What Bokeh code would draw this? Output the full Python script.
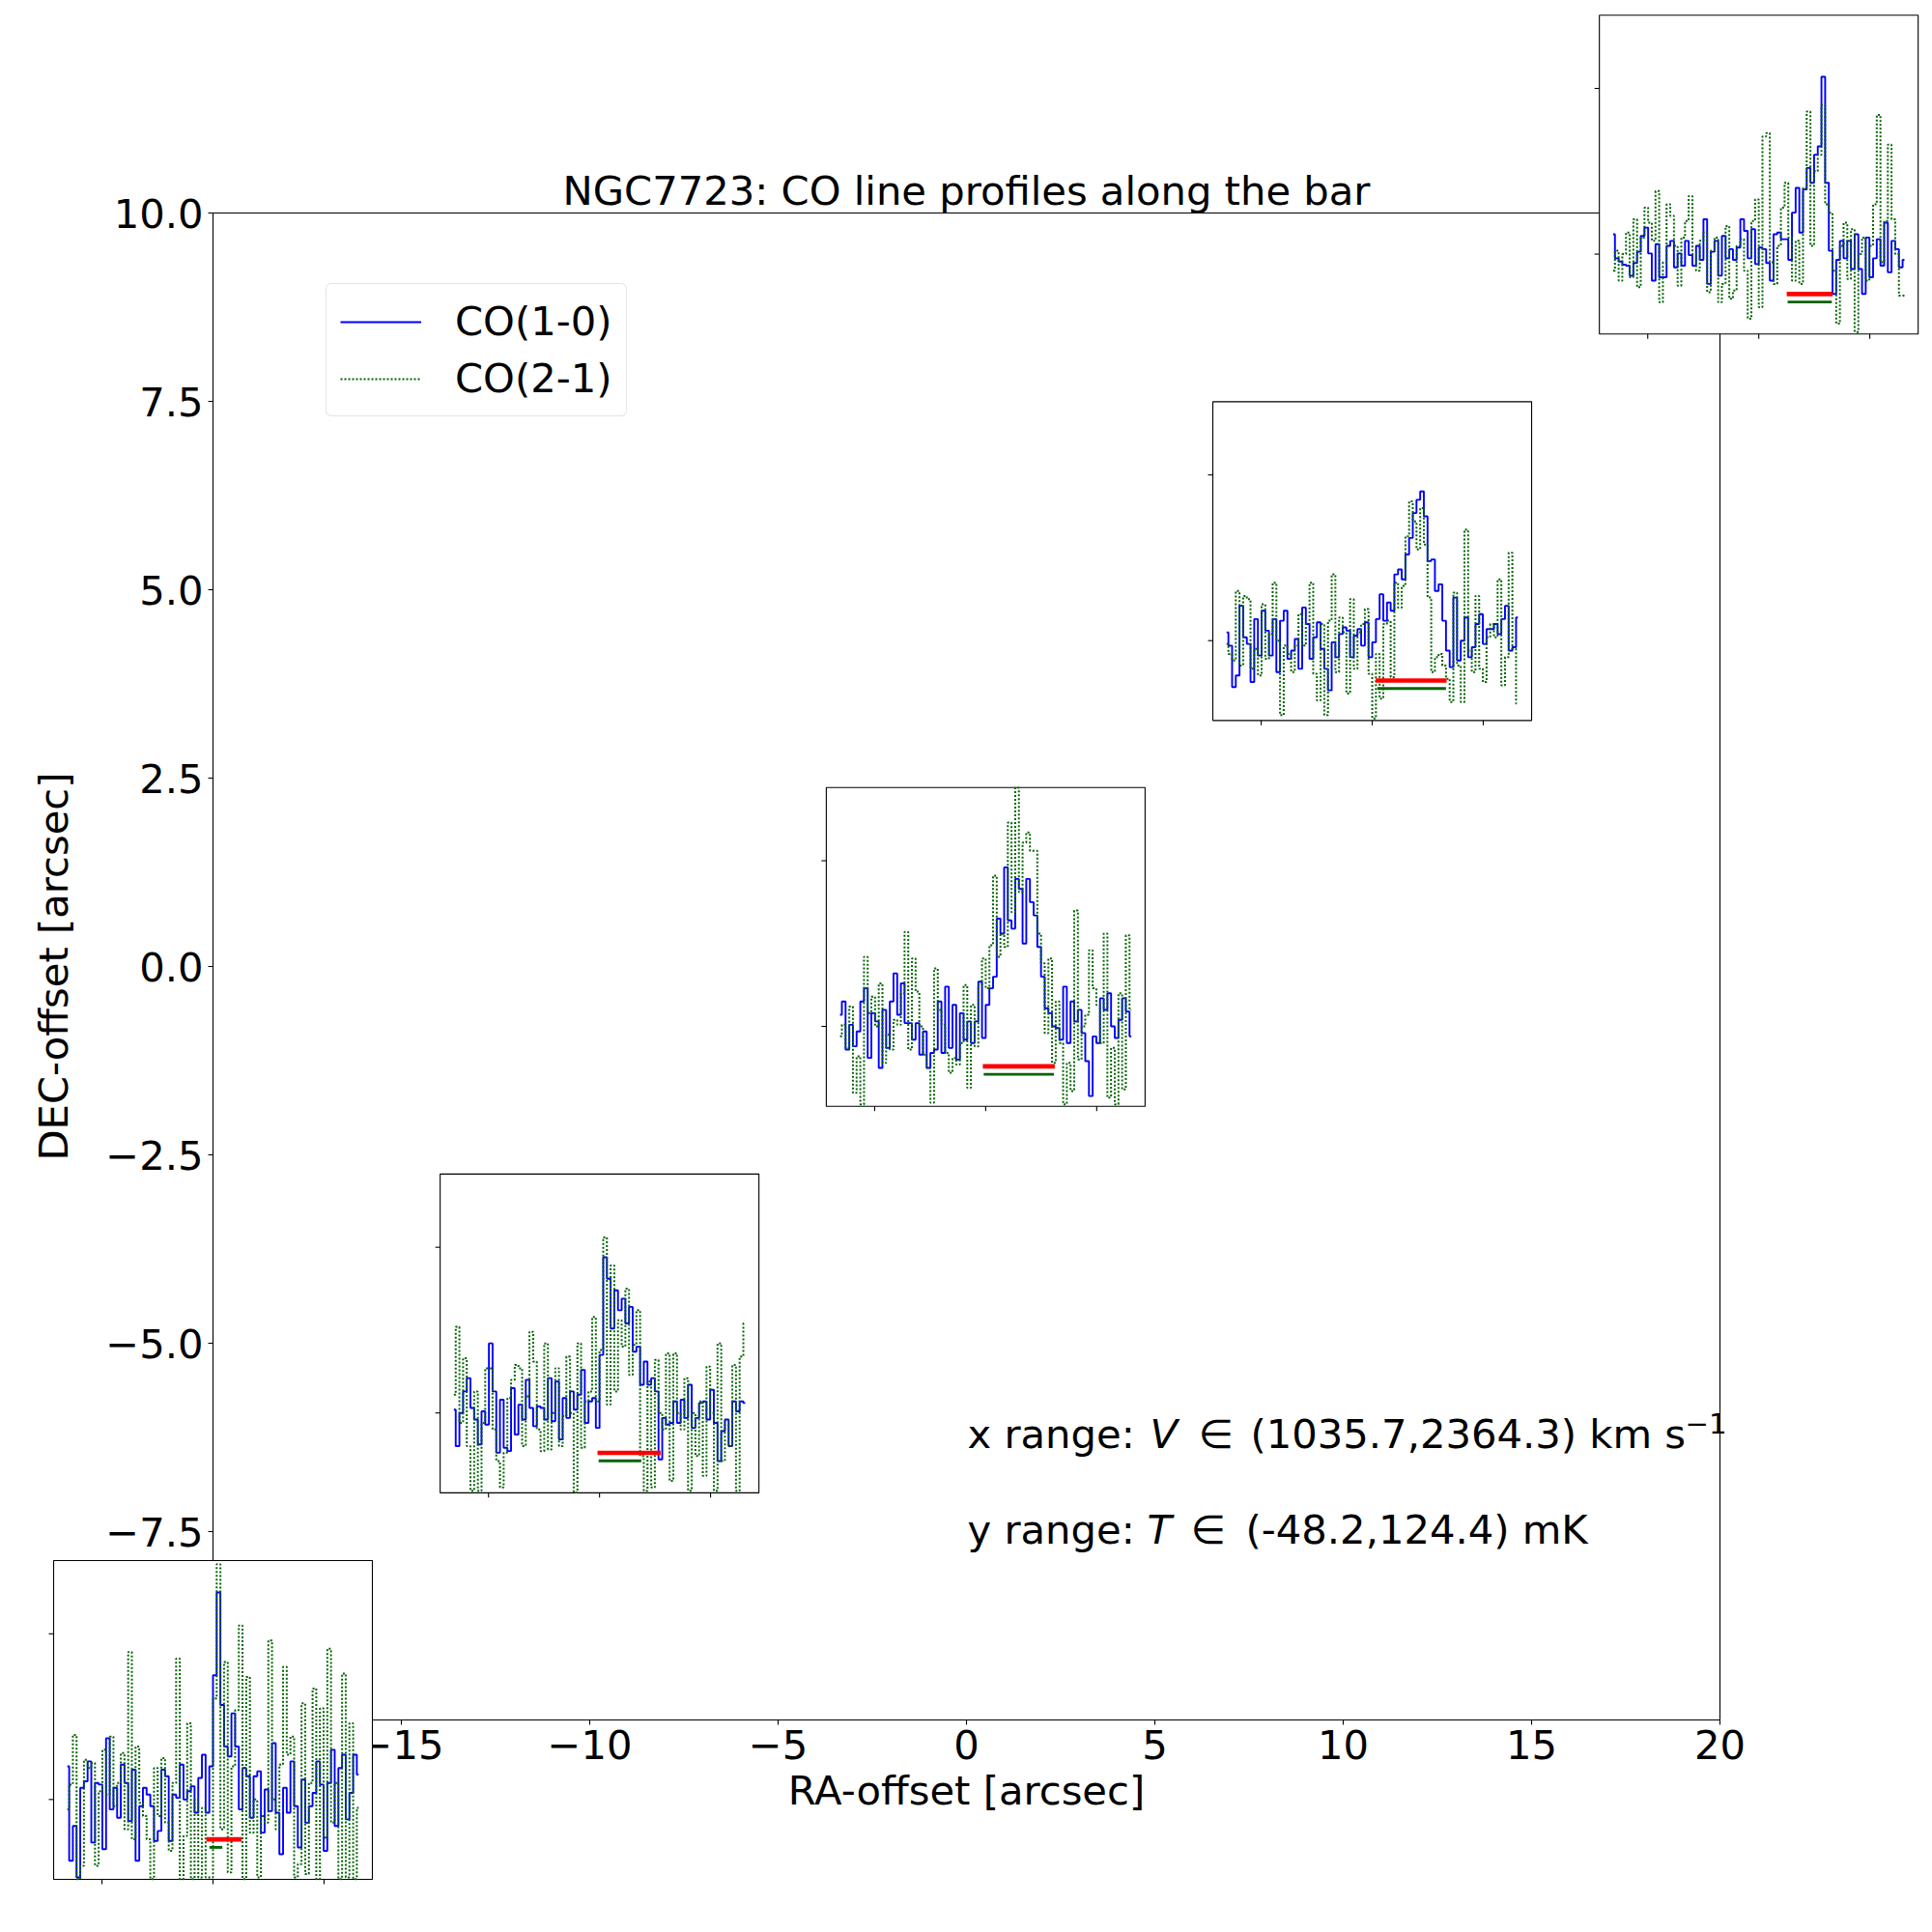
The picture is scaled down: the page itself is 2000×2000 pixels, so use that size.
import math
from bokeh.plotting import figure
from bokeh.models import (Range1d, LinearAxis, FixedTicker, CustomJSTickFormatter,
                          Label, Legend, LegendItem)
from bokeh.embed import file_html
from bokeh.resources import INLINE

# ---------------- data ----------------
TITLE = "NGC7723: CO line profiles along the bar"
XLABEL = "RA-offset [arcsec]"
YLABEL = "DEC-offset [arcsec]"
XTICKS = [-20, -15, -10, -5, 0, 5, 10, 15, 20]
YTICKS = [-10, -7.5, -5, -2.5, 0, 2.5, 5, 7.5, 10]

# inset centres (RA, DEC offsets in arcsec)
RA_C = [-20.0, -9.74, 0.51, 10.77, 21.03]
DEC_C = [-10.0, -4.87, 0.26, 5.38, 10.51]

V_RANGE = (1035.7, 2364.3)      # km/s, spectral range
T_RANGE = (-48.2, 124.4)        # mK, quoted range
V_LIM = (982.2, 2417.8)         # inset x limits
T_LIM = (-48.2, 144.2)          # inset y limits
V_TICKS = [1200, 1700, 2200]
T_TICKS = [0, 100]
N_CHAN = 80

CO10_1 = [20, -37, -16, -47, 7, 11, 23, -26, 10, 9,
          -30, 37, -6, 7, -11, 21, 10, -13, 18, -37,
          -4, 7, 3, -4, -25, -19, 18, 14, -25, 3,
          1, 21, 0, 5, 8, -8, 13, 27, -8, 20,
          75, 125, 57, 32, 26, 52, 32, -6, 19, 14,
          -11, 14, 17, -20, 6, -7, 34, -8, -33, 7,
          -8, 23, -4, -29, 12, -14, -4, 4, 23, 9,
          -31, 10, 30, -16, 19, 27, -12, 4, 27, 15]
CO21_1 = [-6, 9, 39, -48, -40, 24, 19, 22, -40, 5,
          30, 3, 38, -4, 10, 28, -18, 89, -24, 32,
          -2, -10, -24, -48, 19, -10, 25, -14, -31, 10,
          85, -48, -22, 46, -48, 0, -47, -5, -47, -47,
          61, 142, -18, 83, -44, 20, 54, 105, -48, 74,
          -20, 0, -47, -10, -14, 96, 0, -18, 21, 80,
          27, 38, -47, -39, 58, -45, 10, 67, -48, 55,
          -23, 91, -14, 10, -48, 76, -47, 46, -48, -5]

CO10_2 = [2, -20, 0, 13, 21, 3, -4, -19, 1, -7,
          42, 13, -24, 8, -21, -23, 15, -13, 5, -4,
          20, 3, -8, 4, 3, -4, 21, -5, 19, -16,
          9, -3, 13, 2, 11, 26, -6, 7, 9, -9,
          35, 94, 81, 51, 74, 62, 69, 54, 64, 37,
          40, 17, 31, 17, 21, 13, -28, -3, -7, -6,
          7, -6, 8, -3, 17, -9, -3, 6, 7, -4,
          14, -6, -29, -11, -4, -20, 7, 1, 7, 6]
CO21_2 = [11, 52, -6, 33, -20, -47, 13, -47, -6, 27,
          27, -10, -29, -45, -24, 9, 20, 29, 27, -20,
          10, 49, 31, -10, -23, 42, -22, 0, 27, -20,
          -2, 34, 0, -48, 42, -21, 7, 13, 58, 7,
          38, 106, 5, 89, 13, 56, 40, 75, 23, 41,
          62, -26, -47, 19, -45, 32, 0, -10, 36, -41,
          36, 0, -10, 21, -47, 0, -26, 7, -38, 28,
          0, -47, 42, -29, -5, -20, 29, -47, 34, 54]

CO10_3 = [7, 15, -14, 1, -12, -3, 15, 23, -19, 8,
          3, -25, 10, -13, 15, 32, 7, 26, 2, 2,
          -8, 2, -17, -3, -25, -16, -14, 15, -16, 24,
          -13, 13, -20, 8, -8, 3, -10, 3, 27, -7,
          13, 23, 30, 65, 56, 96, 64, 59, 89, 83,
          50, 89, 75, 67, 48, 30, 11, 8, 0, -1,
          -8, 24, -10, 15, 3, 10, -4, -21, -42, -6,
          -10, 17, 10, 20, 0, -7, 4, 17, 9, -6]
CO21_3 = [-6, 1, -13, 12, -40, -18, -47, 42, 8, 18,
          0, 26, -22, -5, -14, 4, 1, 20, 57, -14,
          41, 21, 0, -17, -25, -46, 35, 10, 1, -16,
          -28, -19, -23, -10, 25, -37, 13, -12, 25, 41,
          23, 49, 91, 42, 56, 48, 123, 69, 144, 81,
          111, 117, 106, 106, 56, 38, -4, 41, -22, 15,
          -10, -47, -22, -39, 70, -20, 0, 7, 46, 23,
          13, -10, 56, -43, -13, -47, 20, -38, 55, 10]

CO10_4 = [5, -3, -28, -21, 21, 2, -2, -25, 13, -9,
          18, 6, -9, 13, -19, 12, 18, -11, -6, 1,
          -17, 20, 10, -11, 2, 11, -5, -17, -30, -1,
          -10, 4, 8, 6, -10, 3, 7, -3, 11, -10,
          -1, 13, 28, 12, 23, 18, 40, 43, 37, 52,
          62, 77, 85, 90, 75, 48, 49, 30, 34, 12,
          -6, -16, 26, -12, 0, 14, -10, -4, 10, 16,
          -2, 7, 7, 10, 4, 13, 21, -6, -4, 14]
CO21_4 = [-2, -8, -12, 30, -15, 27, 25, -17, -5, -21,
          22, -11, 4, 35, 0, -45, -3, -8, -19, -3,
          16, -3, 10, 35, -20, -36, 10, -45, 12, 40,
          -19, 14, 5, -32, 25, -17, 5, 10, 19, -20,
          -47, -8, -35, 10, 12, -22, 35, 20, 33, 63,
          84, 72, 55, 80, 58, 26, -19, -10, -8, -15,
          -23, -37, 29, -15, -37, 67, -6, -19, 27, -17,
          -25, 2, 10, 2, 37, -27, -10, 53, -5, -38]

CO10_5 = [12, -2.5, -4.5, -6.4, -7, -13, -5.4, 1.4, 11, 16,
          0.4, -16, 6, -14, -14, 5, 8, -8, 0.4, -7,
          8, -0.6, -7, 5, -3.5, 21, -18, 1.4, 8, -13,
          11, -2.5, 3, -3.5, 4, 21, 14, -2.5, 15, -6,
          4, 3, -5.4, -16, 12, 13, 9, 9, -3.5, 25,
          40, 13, 39, 52, 43, 60, 65, 107, 43, 2,
          -24, -3.5, 8, -2.5, 8, -9, 12, -9, -24, 10,
          -14, -2.5, 9, -7, 19, -11, 8, 3, -8, -3.5]
CO21_5 = [-10, 2, -16, 0, 13, -14, 21, -20, 10, 28,
          19, 8, 38, -29, -5, 30, 23, 5, -19, 10,
          20, 35, 0, -10, 8, 13, -23, 2, 10, -29,
          -18, 17, -27, -22, 5, 9, -10, -39, 20, 33,
          -32, 71, 73, -5, -18, 5, 28, 43, 10, -16,
          8, -18, 40, 86, 5, 50, 60, 90, 30, 25,
          -10, -42, 5, 19, -15, 15, -47, 0, 10, -16,
          5, 30, 84, -5, 20, 66, 21, 0, -25, -25]

# velocity windows of the line (red: CO(1-0), green: CO(2-1))
RED_LO = [1670, 1691, 1687, 1716, 1826]
RED_HI = [1829, 1975, 2011, 2035, 2033]
GRN_LO = [1684, 1696, 1691, 1723, 1830]
GRN_HI = [1742, 1888, 2007, 2032, 2029]
RED_T = -24.1
GRN_T = -28.9

CO10 = [CO10_1, CO10_2, CO10_3, CO10_4, CO10_5]
CO21 = [CO21_1, CO21_2, CO21_3, CO21_4, CO21_5]

# channel centres
DV = (V_RANGE[1] - V_RANGE[0]) / N_CHAN
VEL = [V_RANGE[0] + (k + 0.5) * DV for k in range(N_CHAN)]

# ---------------- layout ----------------
FONT = "DejaVu Sans"
FSPX = 41.7
FS = f"{FSPX}px"
W = H = 1992
AX_L, AX_R = 220, 1780
AX_T, AX_B = 220, 1780
XMIN, XMAX = -20, 20
YMIN, YMAX = -10, 10
SX = (AX_R - AX_L) / (XMAX - XMIN)
SY = (AX_B - AX_T) / (YMAX - YMIN)
X0 = XMIN - AX_L / SX
X1 = XMAX + (W - AX_R) / SX
Y1 = YMAX + AX_T / SY
Y0 = YMIN - (H - AX_B) / SY
HALF = 165  # inset half size in px
HX = HALF / SX
HY = HALF / SY
LABEL_FIX = 0.35  # baseline correction (em) for Label text

p = figure(width=W, height=H, output_backend="svg", toolbar_location=None,
           x_axis_type=None, y_axis_type=None,
           x_range=Range1d(start=X0, end=X1), y_range=Range1d(start=Y0, end=Y1),
           min_border=0, min_border_left=0, min_border_right=0,
           min_border_top=0, min_border_bottom=0,
           outline_line_color=None, background_fill_color="white",
           border_fill_color="white")


def style_axis(ax):
    ax.axis_line_color = "black"
    ax.axis_line_width = 1.1
    ax.major_tick_line_color = "black"
    ax.major_tick_line_width = 1.1
    ax.major_tick_in = 0
    ax.major_tick_out = 5
    ax.minor_tick_line_color = None
    ax.major_label_text_font = FONT
    ax.major_label_text_font_size = FS
    ax.major_label_text_color = "black"
    ax.major_label_standoff = 5
    ax.axis_label_text_font = FONT
    ax.axis_label_text_font_size = FS
    ax.axis_label_text_font_style = "normal"
    ax.axis_label_text_color = "black"
    ax.axis_label_standoff = 5


xfmt = CustomJSTickFormatter(code="const s = Math.abs(tick).toFixed(0); return (tick < 0 ? '\\u2212' : '') + s;")
yfmt = CustomJSTickFormatter(code="const s = Math.abs(tick).toFixed(1); return (tick < 0 ? '\\u2212' : '') + s;")

ax_b = LinearAxis(fixed_location=YMIN, bounds=(XMIN, XMAX), ticker=FixedTicker(ticks=XTICKS),
                  formatter=xfmt, axis_label=XLABEL)
style_axis(ax_b)
p.add_layout(ax_b, "below")

ax_l = LinearAxis(fixed_location=XMIN, bounds=(YMIN, YMAX), ticker=FixedTicker(ticks=YTICKS),
                  formatter=yfmt, axis_label=YLABEL)
style_axis(ax_l)
ax_l.axis_label_standoff = 0
p.add_layout(ax_l, "left")

ax_t = LinearAxis(fixed_location=YMAX, bounds=(XMIN, XMAX), ticker=FixedTicker(ticks=[]))
style_axis(ax_t)
ax_t.major_tick_line_color = None
p.add_layout(ax_t, "above")

ax_r = LinearAxis(fixed_location=XMAX, bounds=(YMIN, YMAX), ticker=FixedTicker(ticks=[]))
style_axis(ax_r)
ax_r.major_tick_line_color = None
p.add_layout(ax_r, "right")

# ---------------- insets ----------------
xr_extra = {}
yr_extra = {}
for i in range(5):
    bx0 = RA_C[i] - HX
    bx1 = RA_C[i] + HX
    by0 = DEC_C[i] - HY
    by1 = DEC_C[i] + HY
    vs = (V_LIM[1] - V_LIM[0]) / (bx1 - bx0)
    ts = (T_LIM[1] - T_LIM[0]) / (by1 - by0)
    xr_extra[f"v{i}"] = Range1d(start=V_LIM[0] + (X0 - bx0) * vs, end=V_LIM[0] + (X1 - bx0) * vs)
    yr_extra[f"t{i}"] = Range1d(start=T_LIM[0] + (Y0 - by0) * ts, end=T_LIM[0] + (Y1 - by0) * ts)
p.extra_x_ranges = xr_extra
p.extra_y_ranges = yr_extra

blue_r = []
green_r = []
for i in range(5):
    kw = dict(x_range_name=f"v{i}", y_range_name=f"t{i}", level="overlay")
    p.quad(left=[V_LIM[0]], right=[V_LIM[1]], bottom=[T_LIM[0]], top=[T_LIM[1]],
           fill_color="white", line_color="black", line_width=1.1, **kw)
    p.ray(x=V_TICKS, y=[T_LIM[0]] * len(V_TICKS), length=5, length_units="screen",
          angle=-math.pi / 2, line_color="black", line_width=1.1, **kw)
    p.ray(x=[V_LIM[0]] * len(T_TICKS), y=T_TICKS, length=5, length_units="screen",
          angle=math.pi, line_color="black", line_width=1.1, **kw)
    b = p.step(VEL, CO10[i], mode="center", line_color="blue", line_width=1.9, **kw)
    g = p.step(VEL, CO21[i], mode="center", line_color="darkgreen", line_width=2.0,
               line_dash="2 2", **kw)
    blue_r.append(b)
    green_r.append(g)
    p.segment(x0=[RED_LO[i]], x1=[RED_HI[i]], y0=[RED_T], y1=[RED_T],
              line_color="red", line_width=4.6, **kw)
    p.segment(x0=[GRN_LO[i]], x1=[GRN_HI[i]], y0=[GRN_T], y1=[GRN_T],
              line_color="darkgreen", line_width=2.9, **kw)

# ---------------- texts ----------------
p.add_layout(Label(x=0, y=YMAX + (8.3 + LABEL_FIX * FSPX) / SY, text=TITLE,
                   text_align="center", text_baseline="alphabetic", text_font=FONT,
                   text_font_size=FS, text_color="black"))

TXT_Y = [-6.39, -7.66]
SUP_RAISE = 15
SUP_PX = 29.2


def add_txt(y, dx, text, style="normal", px=FSPX):
    p.add_layout(Label(x=0, y=y + LABEL_FIX * px / SY, x_offset=dx, text=text,
                       text_align="left", text_baseline="alphabetic", text_font=FONT,
                       text_font_size=f"{px}px", text_font_style=style,
                       text_color="black"))


add_txt(TXT_Y[0], 1, "x range:")
add_txt(TXT_Y[0], 190, "V", style="italic")
add_txt(TXT_Y[0], 240, "\u2208")
add_txt(TXT_Y[0], 294, f"({V_RANGE[0]},{V_RANGE[1]}) km s")
add_txt(TXT_Y[0] + SUP_RAISE / SY, 744, "\u22121", px=SUP_PX)

add_txt(TXT_Y[1], 1, "y range:")
add_txt(TXT_Y[1], 187, "T", style="italic")
add_txt(TXT_Y[1], 232, "\u2208")
add_txt(TXT_Y[1], 289, f"({T_RANGE[0]},{T_RANGE[1]}) mK")

# ---------------- legend ----------------
legend = Legend(items=[LegendItem(label="CO(1-0)", renderers=[blue_r[0]]),
                       LegendItem(label="CO(2-1)", renderers=[green_r[0]])],
                location=(337, 1561), margin=0, padding=14, spacing=10,
                glyph_width=84, glyph_height=40, label_standoff=35,
                label_text_font=FONT, label_text_font_size=FS, label_text_color="black",
                border_line_color="#cccccc", border_line_width=1.1,
                background_fill_color="white", background_fill_alpha=0.8)
if "border_radius" in Legend.properties():
    legend.border_radius = 6
p.add_layout(legend, "center")

open("out.html", "w").write(file_html(p, INLINE))
